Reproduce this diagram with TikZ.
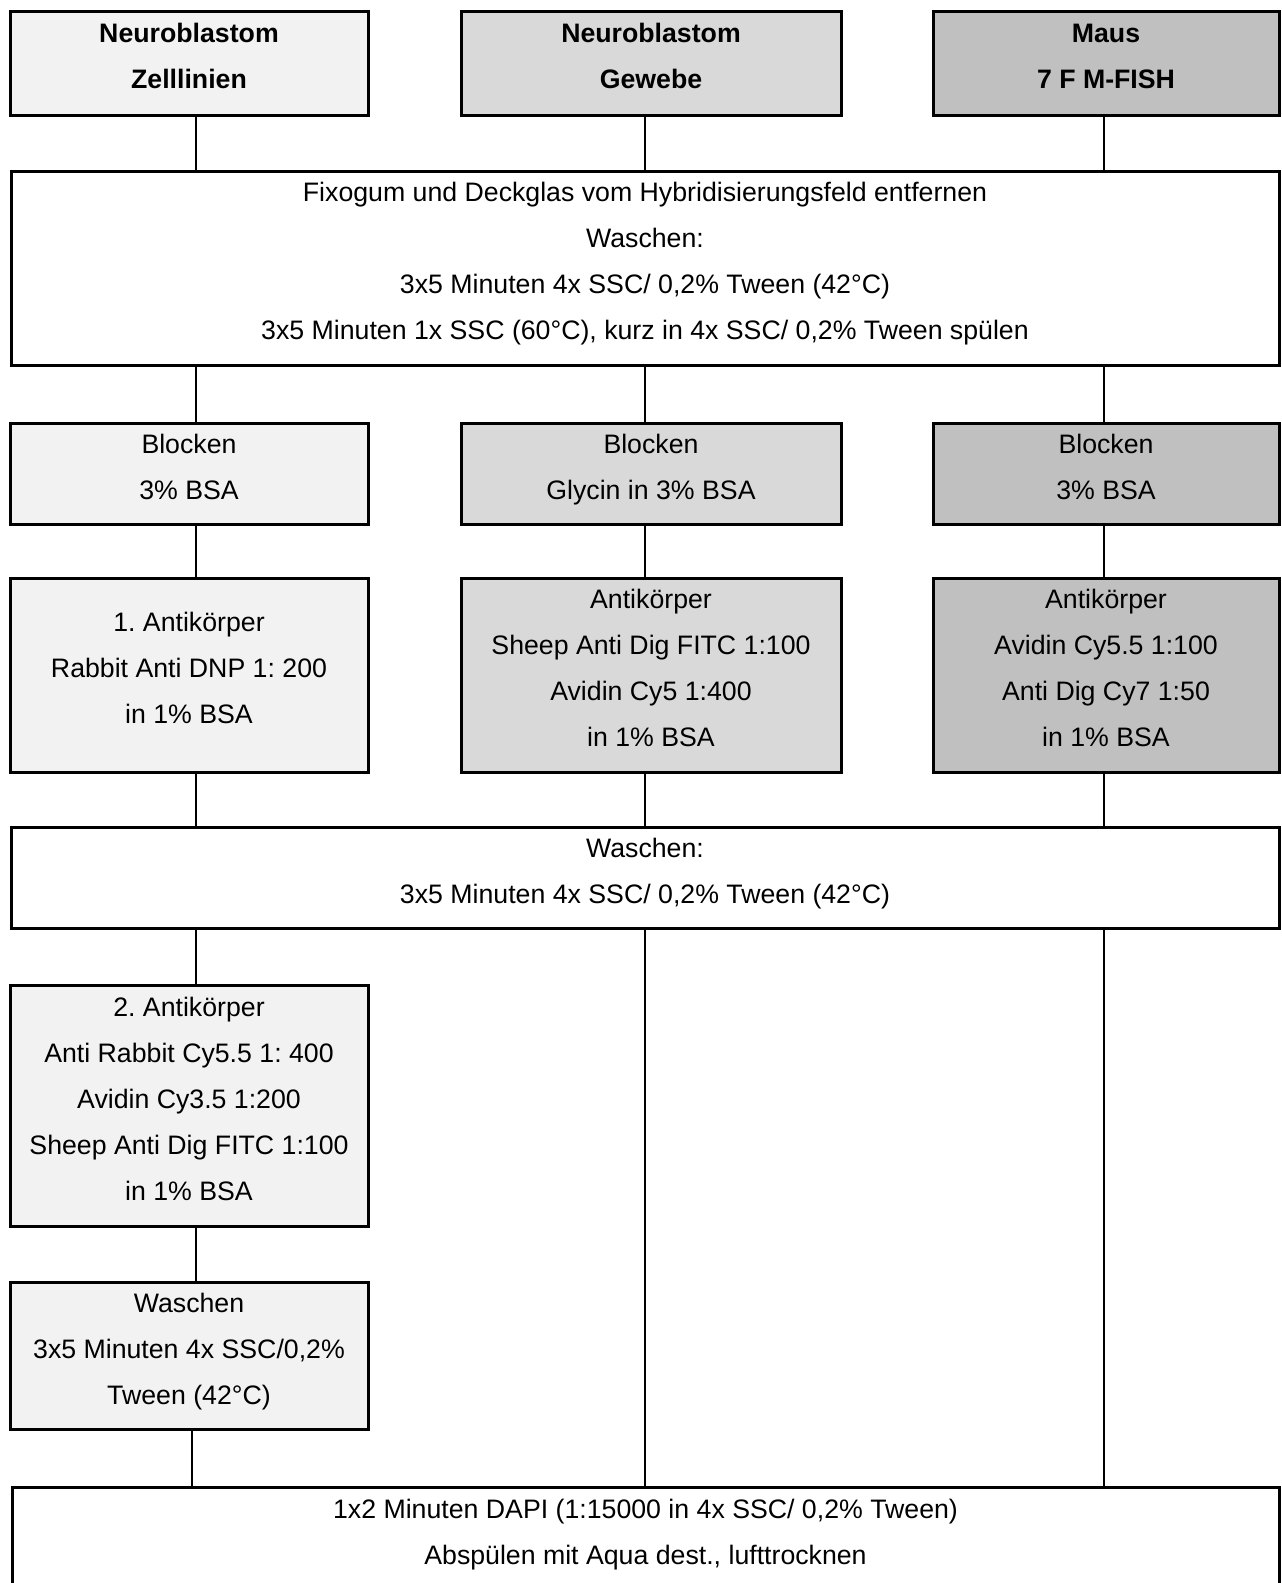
\documentclass[tikz,border=0pt]{standalone}
\usepackage{fontspec}
\setmainfont{Liberation Sans}
\usetikzlibrary{positioning,calc}
\definecolor{gA}{HTML}{F2F2F2}
\definecolor{gB}{HTML}{D9D9D9}
\definecolor{gC}{HTML}{C0C0C0}
\frenchspacing
\newcommand{\fsz}{\fontsize{26.7}{46}\selectfont}
\newcommand{\sthi}{\rule{0pt}{20pt}}
\newcommand{\stlo}{\rule[-14pt]{0pt}{14pt}}
\tikzset{
  bx/.style   = {draw=black, line width=3pt, fill=white, align=center,
                 font=\fsz, inner sep=0pt,
                 execute at begin node=\sthi, execute at end node=\stlo},
  bxa/.style  = {bx, fill=gA, minimum width=358pt},
  bxb/.style  = {bx, fill=gB, minimum width=380pt},
  bxc/.style  = {bx, fill=gC, minimum width=346pt},
  bxw/.style  = {bx, minimum width=1268pt},
  hd/.style   = {font=\fsz\bfseries, minimum height=104pt},
  ln/.style   = {draw=black, line width=2.7pt},
}
\begin{document}
\begin{tikzpicture}[x=1pt, y=-1pt]
  \useasboundingbox (0,0) rectangle (1282,1583);
  \clip (0,0) rectangle (1282,1583);
  \coordinate (c1) at (196,0);
  \coordinate (c1b) at (192,0);
  \coordinate (c2) at (645,0);
  \coordinate (c3) at (1104,0);
  % sample types
  \node[bxa, hd] (hd1) at (189,63)  {Neuroblastom\\Zelllinien};
  \node[bxb, hd] (hd2) at (651,63)  {Neuroblastom\\Gewebe};
  \node[bxc, hd] (hd3) at (1106,63) {Maus\\7 F M-FISH};
  \node[bxw, minimum height=194pt] (fix) at (645,268)
    {Fixogum und Deckglas vom Hybridisierungsfeld entfernen\\
     Waschen:\\
     3x5 Minuten 4x SSC/ 0,2\% Tween (42°C)\\
     3x5 Minuten 1x SSC (60°C), kurz in 4x SSC/ 0,2\% Tween spülen};
  % blocking
  \node[bxa, minimum height=101pt] (blk1) at (189,473.5)  {Blocken\\3\% BSA};
  \node[bxb, minimum height=101pt] (blk2) at (651,473.5)  {Blocken\\Glycin in 3\% BSA};
  \node[bxc, minimum height=101pt] (blk3) at (1106,473.5) {Blocken\\3\% BSA};
  % antibodies
  \node[bxa, minimum height=194pt] (ak1) at (189,675)
    {1. Antikörper\\Rabbit Anti DNP 1: 200\\in 1\% BSA};
  \node[bxb, minimum height=194pt] (ak2) at (651,675)
    {Antikörper\\Sheep Anti Dig FITC 1:100\\Avidin Cy5 1:400\\in 1\% BSA};
  \node[bxc, minimum height=194pt] (ak3) at (1106,675)
    {Antikörper\\Avidin Cy5.5 1:100\\Anti Dig Cy7 1:50\\in 1\% BSA};
  \node[bxw, minimum height=101pt] (wsch) at (645,877.5)
    {Waschen:\\3x5 Minuten 4x SSC/ 0,2\% Tween (42°C)};
  % second antibody, cell lines only
  \node[bxa, minimum height=241pt] (akb) at (189,1105.5)
    {2. Antikörper\\Anti Rabbit Cy5.5 1: 400\\Avidin Cy3.5 1:200\\
     Sheep Anti Dig FITC 1:100\\in 1\% BSA};
  \node[bxa, minimum height=147pt] (wschb) at (189,1355.5)
    {Waschen\\3x5 Minuten 4x SSC/0,2\%\\Tween (42°C)};
  \node[bx, minimum width=1267pt, minimum height=103pt] (dapi) at (645.5,1538.5)
    {1x2 Minuten DAPI (1:15000 in 4x SSC/ 0,2\% Tween)\\
     Abspülen mit Aqua dest., lufttrocknen};
  % connectors
  \draw[ln] (c1 |- hd1.south) -- (c1 |- fix.north);
  \draw[ln] (c2 |- hd2.south) -- (c2 |- fix.north);
  \draw[ln] (c3 |- hd3.south) -- (c3 |- fix.north);
  \draw[ln] (c1 |- fix.south) -- (c1 |- blk1.north);
  \draw[ln] (c2 |- fix.south) -- (c2 |- blk2.north);
  \draw[ln] (c3 |- fix.south) -- (c3 |- blk3.north);
  \draw[ln] (c1 |- blk1.south) -- (c1 |- ak1.north);
  \draw[ln] (c2 |- blk2.south) -- (c2 |- ak2.north);
  \draw[ln] (c3 |- blk3.south) -- (c3 |- ak3.north);
  \draw[ln] (c1 |- ak1.south) -- (c1 |- wsch.north);
  \draw[ln] (c2 |- ak2.south) -- (c2 |- wsch.north);
  \draw[ln] (c3 |- ak3.south) -- (c3 |- wsch.north);
  \draw[ln] (c1 |- wsch.south) -- (c1 |- akb.north);
  \draw[ln] (c1 |- akb.south) -- (c1 |- wschb.north);
  \draw[ln] (c1b |- wschb.south) -- (c1b |- dapi.north);
  \draw[ln] (c2 |- wsch.south) -- (c2 |- dapi.north);
  \draw[ln] (c3 |- wsch.south) -- (c3 |- dapi.north);
\end{tikzpicture}
\end{document}
